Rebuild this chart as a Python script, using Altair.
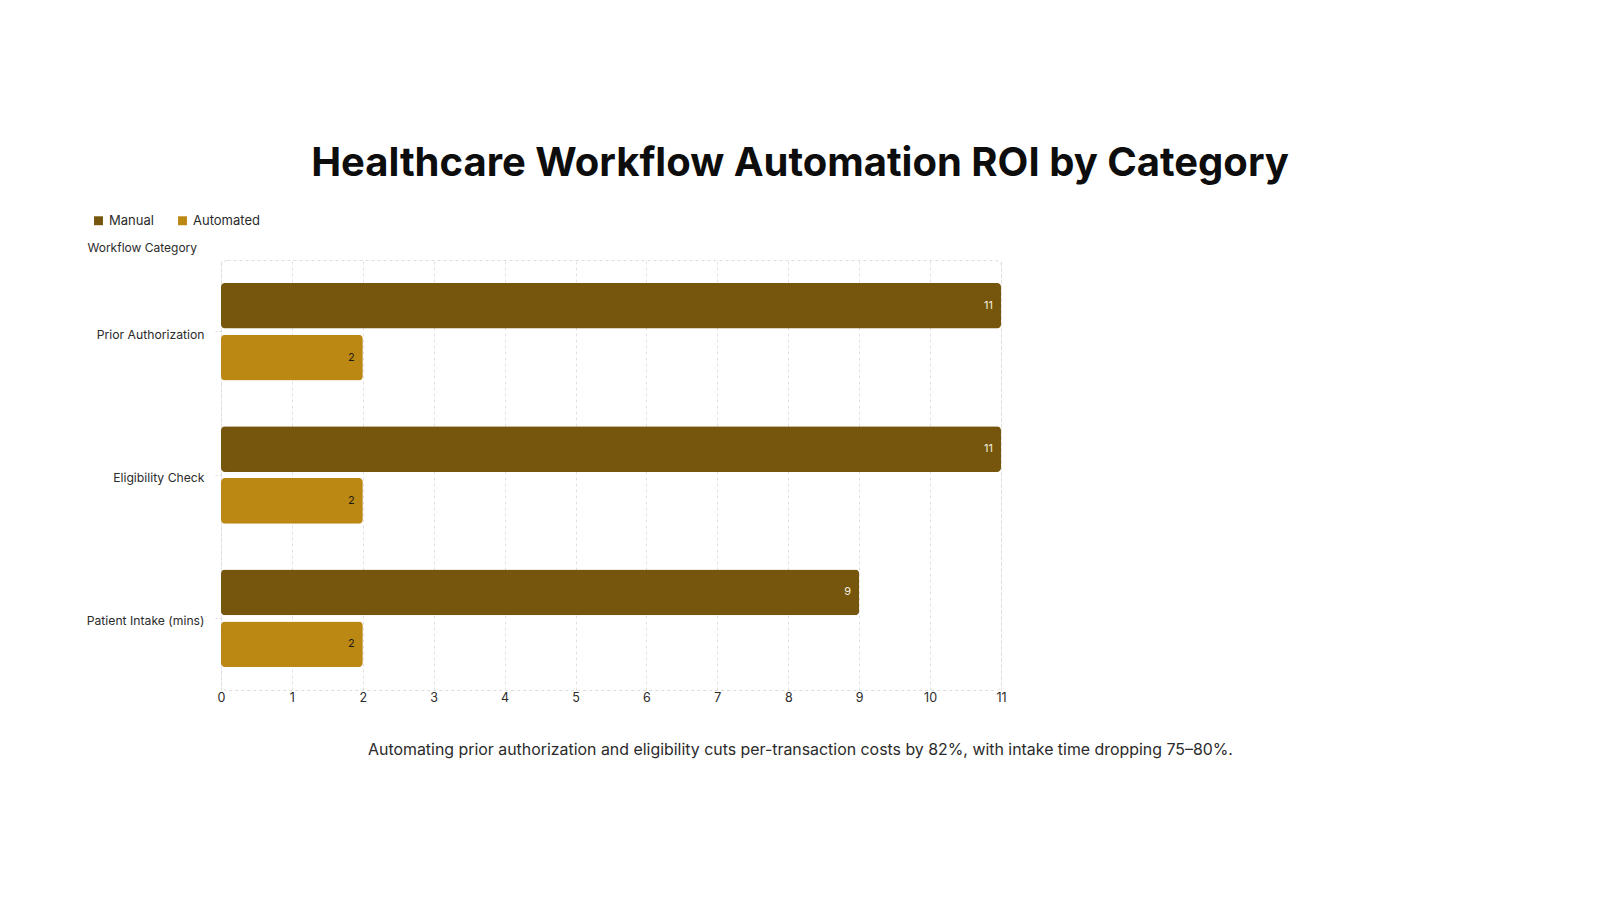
import altair as alt
import pandas as pd

# Minutes per transaction, manual vs automated, by workflow
categories = ["Prior Authorization", "Eligibility Check", "Patient Intake (mins)"]
manual = [11, 11, 9]
automated = [2, 2, 2]
methods = ["Manual", "Automated"]
colors = ["#76560C", "#BC8814"]
label_colors = ["#F4EEDF", "#1C1A17"]

rows = []
for cat, m, a in zip(categories, manual, automated):
    rows.append({"category": cat, "method": "Manual", "value": m})
    rows.append({"category": cat, "method": "Automated", "value": a})
df = pd.DataFrame(rows)

FONT = "Inter"

y_enc = alt.Y(
    "category:N",
    sort=categories,
    title="Workflow Category",
    scale=alt.Scale(paddingInner=0.32, paddingOuter=0.16),
    axis=alt.Axis(
        domain=False,
        ticks=True,
        tickSize=6,
        tickColor="#dddddd",
        tickDash=[2, 2],
        labelPadding=11,
        labelOffset=3,
        labelFontSize=12.2,
        labelColor="#2b2b2b",
        labelFont=FONT,
        titleAngle=0,
        titleAlign="left",
        titleBaseline="middle",
        titleX=-134,
        titleY=-13,
        titleFontSize=12,
        titleFontWeight="normal",
        titleColor="#2b2b2b",
        titleFont=FONT,
        grid=False,
    ),
)
y_off = alt.YOffset(
    "method:N", sort=methods, scale=alt.Scale(paddingInner=0.12)
)
x_enc = alt.X(
    "value:Q",
    scale=alt.Scale(domain=[0, 11], nice=False),
    title="Automating prior authorization and eligibility cuts per-transaction costs by 82%, with intake time dropping 75\u201380%.",
    axis=alt.Axis(
        values=list(range(0, 12)),
        format="d",
        labelAlign="center",
        labelFlush=False,
        domain=False,
        ticks=False,
        labelPadding=1,
        labelFontSize=12.5,
        labelColor="#2b2b2b",
        labelFont=FONT,
        grid=True,
        gridColor="#e2e2e2",
        gridDash=[3, 3],
        titleFont=FONT,
        titleFontSize=15.9,
        titleFontWeight="normal",
        titleColor="#2b2b2b",
        titleX=579,
        titleY=59,
        titleAlign="center",
        titleBaseline="middle",
    ),
)

bars = alt.Chart(df).mark_bar(cornerRadius=4).encode(
    y=y_enc,
    yOffset=y_off,
    x=x_enc,
    color=alt.Color(
        "method:N",
        sort=methods,
        scale=alt.Scale(domain=methods, range=colors),
        legend=alt.Legend(
            title=None,
            orient="none",
            legendX=-129,
            legendY=-46,
            direction="horizontal",
            symbolType="square",
            symbolSize=80,
            labelFontSize=13,
            labelFont=FONT,
            labelColor="#2b2b2b",
            columnPadding=22,
        ),
    ),
)

labels = alt.Chart(df).mark_text(
    align="right", baseline="middle", dx=-8, fontSize=11, font=FONT
).encode(
    y=alt.Y("category:N", sort=categories),
    yOffset=alt.YOffset("method:N", sort=methods),
    x="value:Q",
    text="value:Q",
    color=alt.Color(
        "method:N", sort=methods,
        scale=alt.Scale(domain=methods, range=label_colors), legend=None
    ),
)

chart = (
    alt.layer(bars, labels)
    .resolve_scale(color="independent")
    .properties(
        width=780,
        height=430,
        autosize=alt.AutoSizeParams(type="none"),
        padding={"left": 221, "top": 260, "right": 599, "bottom": 210},
        background="#ffffff",
        title=alt.TitleParams(
            "Healthcare Workflow Automation ROI by Category",
            font=FONT,
            fontSize=40,
            fontWeight="bold",
            color="#0d0d0d",
            anchor="middle",
            dx=189,
            offset=30,
        ),
    )
    .configure_view(
        stroke="#dcdcdc", strokeDash=[3, 3], cornerRadius=6, strokeWidth=1
    )
)

chart.save("out.html", embed_options={"renderer": "svg", "actions": False})
